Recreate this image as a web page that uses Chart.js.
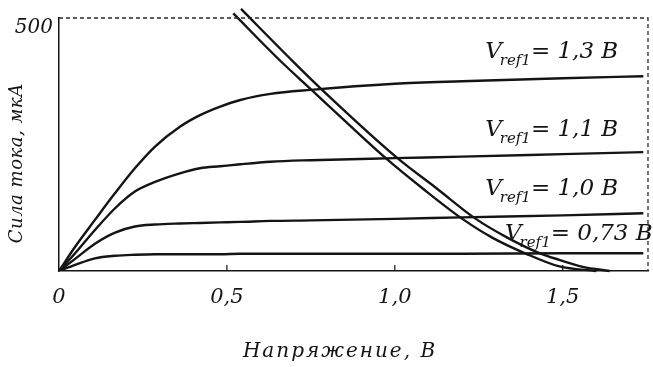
<!DOCTYPE html>
<html lang="ru">
<head>
<meta charset="utf-8">
<title>Сила тока</title>
<script src="https://cdn.jsdelivr.net/npm/chart.js@4.4.1/dist/chart.umd.min.js"></script>
<style>
html, body { margin: 0; padding: 0; background: #fff; }
#wrap { width: 653px; height: 367px; position: relative; }
</style>
</head>
<body>
<div id="wrap"><canvas id="ivChart"></canvas></div>
<script>
// ===============================
// Данные: выходные характеристики
// ===============================

// напряжение, В (общая сетка для четырёх кривых)
const voltage = [0, 0.048, 0.107, 0.167, 0.226, 0.286, 0.36, 0.42, 0.48, 0.54, 0.63, 0.75, 1.0, 1.2, 1.5, 1.74];

// сила тока, мкА, для разных Vref1
const current13  = [0, 48, 101, 154, 203, 246, 285, 308, 325, 338, 350, 358, 370, 375, 381, 385];
const current11  = [0, 35, 81, 124, 157, 176, 193, 203, 207, 211, 216, 219, 223, 226, 231, 235];
const current10  = [0, 24, 54, 76, 88, 92, 94, 95, 96, 97, 99, 100, 103, 106, 110, 114];
const current073 = [0, 12, 25, 30, 32, 33, 33, 33, 33, 34, 34, 34, 34, 34, 35, 35];

const refVoltages = ["1,3", "1,1", "1,0", "0,73"];

// нагрузочные линии (двойная линия)
const loadLeftV  = [0.519, 0.658, 0.752, 0.857, 0.973, 1.085, 1.199, 1.29, 1.388, 1.49, 1.6];
const loadLeftI  = [509, 416, 358, 293, 223, 162, 104, 66, 35, 9, 0];
const loadRightV = [0.542, 0.688, 0.782, 1.008, 1.125, 1.239, 1.335, 1.432, 1.49, 1.56, 1.64];
const loadRightI = [518, 420, 359, 223, 163, 104, 66, 35, 22, 8, 0];

// подписи осей
const xTickValues = [0, 0.5, 1.0, 1.5];
const yTickValues = [500];

const toPoints = (xs, ys) => xs.map((x, i) => ({ x: x, y: ys[i] }));

const INK = "#141414";
const SERIF = '"DejaVu Serif", "Liberation Serif", serif';

function curve(ys) {
    return {
        data: toPoints(voltage, ys),
        borderColor: INK,
        borderWidth: 2.4,
        pointRadius: 0,
        cubicInterpolationMode: "monotone",
        fill: false
    };
}

function loadLine(xs, ys) {
    return {
        data: toPoints(xs, ys),
        borderColor: INK,
        borderWidth: 2.4,
        pointRadius: 0,
        cubicInterpolationMode: "monotone",
        fill: false,
        clip: false
    };
}

// ===============================
// Рамка, засечки, подписи Vref1, названия осей
// ===============================

const decorPlugin = {
    id: "decor",
    afterDatasetsDraw(chart, args, opts) {
        const ctx = chart.ctx;
        const a = chart.chartArea;
        const xs = chart.scales.x;
        const ys = chart.scales.y;

        ctx.save();

        // пунктирная рамка сверху и справа
        ctx.strokeStyle = "#2a2a2a";
        ctx.lineWidth = 1.3;
        ctx.setLineDash([4, 3]);
        ctx.beginPath();
        ctx.moveTo(a.left, a.top);
        ctx.lineTo(a.right, a.top);
        ctx.lineTo(a.right, a.bottom);
        ctx.stroke();
        ctx.setLineDash([]);

        // засечки внутрь графика
        ctx.strokeStyle = INK;
        ctx.lineWidth = 1.2;
        xTickValues.slice(1).forEach(v => {
            const px = xs.getPixelForValue(v);
            ctx.beginPath();
            ctx.moveTo(px, a.bottom);
            ctx.lineTo(px, a.bottom - 6);
            ctx.stroke();
        });

        // подписи кривых
        ctx.fillStyle = INK;
        ctx.textBaseline = "alphabetic";
        opts.anchors.forEach((p, i) => {
            let px = xs.getPixelForValue(p.x);
            const py = ys.getPixelForValue(p.y);
            ctx.font = "italic 23px " + SERIF;
            ctx.fillText("V", px, py);
            px += ctx.measureText("V").width - 2;
            ctx.font = "italic 15px " + SERIF;
            ctx.fillText("ref1", px, py + 7);
            px += ctx.measureText("ref1").width;
            ctx.font = "italic 23px " + SERIF;
            ctx.fillText("= " + refVoltages[i] + " В", px, py);
        });

        // название оси X
        ctx.font = "italic 20px " + SERIF;
        ctx.letterSpacing = "2px";
        ctx.textAlign = "center";
        ctx.textBaseline = "middle";
        ctx.fillText("Напряжение, В", a.left + 281, 352);

        // название оси Y
        ctx.letterSpacing = "0.5px";
        ctx.font = "italic 18px " + SERIF;
        ctx.translate(17, 163);
        ctx.rotate(-Math.PI / 2);
        ctx.fillText("Сила тока, мкА", 0, 0);

        ctx.restore();
    }
};

const ivChart = document.getElementById("ivChart");

new Chart(ivChart, {

    type: "line",

    data: {
        datasets: [
            curve(current13),
            curve(current11),
            curve(current10),
            curve(current073),
            loadLine(loadLeftV, loadLeftI),
            loadLine(loadRightV, loadRightI)
        ]
    },

    options: {
        responsive: true,
        maintainAspectRatio: false,
        animation: false,
        layout: {
            padding: { top: 18, right: 5, left: 0, bottom: 0 }
        },
        plugins: {
            legend: { display: false },
            tooltip: { enabled: false },
            decor: {
                anchors: [
                    { x: 1.269, y: 421 },
                    { x: 1.269, y: 267 },
                    { x: 1.269, y: 150 },
                    { x: 1.328, y: 61 }
                ]
            }
        },
        scales: {
            x: {
                type: "linear",
                min: 0,
                max: 1.754,
                afterFit: s => { s.height = 96; },
                afterBuildTicks: s => { s.ticks = xTickValues.map(v => ({ value: v })); },
                grid: { display: false, drawTicks: false },
                border: { color: INK, width: 1.5 },
                ticks: {
                    padding: 14,
                    color: INK,
                    font: { family: SERIF, size: 21, style: "italic" },
                    callback: v => v === 0 ? "0" : v.toFixed(1).replace(".", ",")
                }
            },
            y: {
                min: 0,
                max: 500,
                afterFit: s => { s.width = 59; },
                afterBuildTicks: s => { s.ticks = yTickValues.map(v => ({ value: v })); },
                grid: { display: false, drawTicks: false },
                border: { color: INK, width: 1.5 },
                ticks: {
                    padding: 6,
                    labelOffset: 10,
                    color: INK,
                    font: { family: SERIF, size: 20, style: "italic" }
                }
            }
        }
    },

    plugins: [decorPlugin]

});
</script>
</body>
</html>
